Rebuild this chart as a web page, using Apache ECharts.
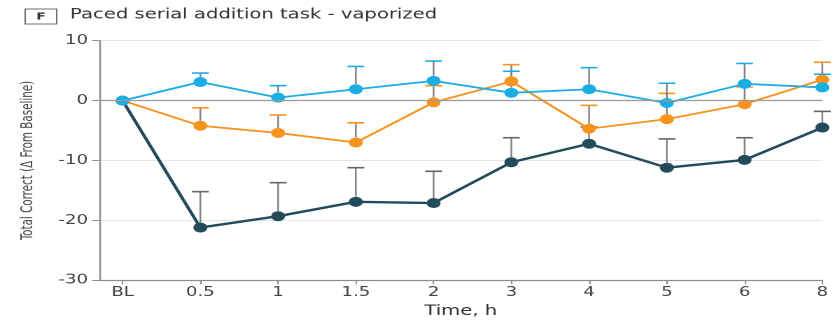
<!DOCTYPE html>
<html>
<head>
<meta charset="utf-8">
<script src="https://cdn.jsdelivr.net/npm/echarts@6/dist/echarts.min.js"></script>
<style>
  html, body { margin: 0; padding: 0; background: #fff; }
  #wrap { width: 834px; height: 321px; overflow: hidden; }
  /* the figure is drawn narrower and widened with scaleX */
  #chart { width: 595.714px; height: 321px; transform: scaleX(1.4); transform-origin: 0 0; }
</style>
</head>
<body>
<div id="wrap"><div id="chart"></div></div>
<script>
// Time points after dosing (h); BL = baseline
const timeLabels = ['BL', '0.5', '1', '1.5', '2', '3', '4', '5', '6', '8'];
const yTicks = [-30, -20, -10, 0, 10];

// Mean change in total correct responses from baseline
const groupAMean = [0, 3.1, 0.5, 1.9, 3.3, 1.3, 1.9, -0.4, 2.8, 2.2];
const groupAUpper = [null, 4.6, 2.5, 5.7, 6.6, 4.9, 5.5, 2.9, 6.2, 4.4];

const groupBMean = [0, -4.2, -5.4, -7.0, -0.3, 3.2, -4.7, -3.1, -0.6, 3.5];
const groupBUpper = [null, -1.2, -2.4, -3.7, 2.5, 6.0, -0.8, 1.2, 2.3, 6.4];

const groupCMean = [0, -21.2, -19.3, -16.9, -17.1, -10.3, -7.2, -11.2, -9.9, -4.5];
const groupCUpper = [null, -15.2, -13.7, -11.2, -11.8, -6.2, -4.4, -6.4, -6.2, -1.8];

const BLUE = '#1aaee5';
const ORANGE = '#f7941d';
const DARK = '#234b5b';
const STEM = '#808080';
const MARKER = 10;

const FONT = "'DejaVu Sans', 'Noto Sans', sans-serif";

function lineSeries(name, means, color, width) {
  return {
    name: name,
    type: 'line',
    data: means.map((v, i) => [i, v]),
    symbol: 'circle',
    symbolSize: MARKER,
    itemStyle: { color: color },
    lineStyle: { color: color, width: width },
    emphasis: { disabled: true },
    silent: true,
    animation: false
  };
}

// upper error bars: grey stem from the marker edge, cap in the group colour
function errorSeries(name, means, uppers, capColor) {
  return {
    name: name + ' SE',
    type: 'custom',
    data: means.map((v, i) => [i, v, uppers[i]]).filter(d => d[2] != null),
    encode: { x: 0, y: [1, 2] },
    silent: true,
    animation: false,
    renderItem: function (params, api) {
      const x = api.value(0);
      const p0 = api.coord([x, api.value(1)]);
      const p1 = api.coord([x, api.value(2)]);
      const hw = 6;
      const yStart = Math.max(p1[1], p0[1] - MARKER / 2);
      return {
        type: 'group',
        children: [
          { type: 'line', shape: { x1: p0[0], y1: yStart, x2: p1[0], y2: p1[1] },
            style: { stroke: STEM, lineWidth: 1.2 } },
          { type: 'line', shape: { x1: p1[0] - hw, y1: p1[1], x2: p1[0] + hw, y2: p1[1] },
            style: { stroke: capColor, lineWidth: 1.6 } }
        ]
      };
    }
  };
}

const chart = echarts.init(document.getElementById('chart'), null, { devicePixelRatio: 2 });

chart.setOption({
  animation: false,
  backgroundColor: '#fff',
  title: {
    text: 'Paced serial addition task - vaporized',
    left: 50,
    top: 8,
    padding: 0,
    textStyle: { fontFamily: FONT, fontSize: 14, fontWeight: 'normal', color: '#333' }
  },
  graphic: [
    {
      type: 'rect',
      shape: { x: 18, y: 9, width: 22.5, height: 15 },
      style: { fill: '#fff', stroke: '#6f6f6f', lineWidth: 1 }
    },
    {
      type: 'text',
      x: 29.3, y: 16.7,
      style: { text: 'F', fontFamily: FONT, fontSize: 10, fontWeight: 'bold', fill: '#333',
               align: 'center', verticalAlign: 'middle' }
    }
  ],
  grid: {
    left: 70.9, right: 8.6, top: 40.7, bottom: 40.7,
    containLabel: false,
    outerBoundsMode: 'none'
  },
  xAxis: {
    type: 'value',
    min: -0.3,
    max: 9,
    name: 'Time, h',
    nameLocation: 'middle',
    nameGap: 23,
    nameTextStyle: { fontFamily: FONT, fontSize: 14, color: '#333' },
    axisLine: { show: true, onZero: false, lineStyle: { color: '#8c8c8c', width: 1.2 } },
    axisTick: {
      show: true, length: 4,
      customValues: timeLabels.map((_, i) => i),
      lineStyle: { color: '#8c8c8c' }
    },
    axisLabel: {
      customValues: timeLabels.map((_, i) => i),
      formatter: v => timeLabels[Math.round(v)],
      margin: 6,
      fontFamily: FONT, fontSize: 13, color: '#444'
    },
    splitLine: { show: false }
  },
  yAxis: {
    type: 'value',
    min: yTicks[0],
    max: yTicks[yTicks.length - 1],
    interval: 10,
    name: 'Total Correct (\u0394 From Baseline)',
    nameLocation: 'middle',
    nameGap: 45,
    nameTextStyle: {
      fontFamily: "'Liberation Sans Narrow', 'DejaVu Sans Condensed', 'Roboto', sans-serif",
      fontSize: 11.5, color: '#444'
    },
    axisLine: { show: true, onZero: false, lineStyle: { color: '#8c8c8c', width: 1.2 } },
    axisTick: { show: true, length: 5, lineStyle: { color: '#8c8c8c' } },
    axisLabel: { margin: 8, fontFamily: FONT, fontSize: 13, color: '#444' },
    splitLine: { show: true, lineStyle: { color: '#e6e6e6', width: 1 } }
  },
  series: [
    {
      type: 'line',
      data: [],
      silent: true,
      markLine: {
        silent: true,
        symbol: 'none',
        label: { show: false },
        lineStyle: { color: '#9a9a9a', type: 'solid', width: 1.2 },
        data: [{ yAxis: 0 }],
        animation: false
      }
    },
    lineSeries('Group C', groupCMean, DARK, 2.4),
    errorSeries('Group B', groupBMean, groupBUpper, ORANGE),
    lineSeries('Group B', groupBMean, ORANGE, 1.8),
    errorSeries('Group C', groupCMean, groupCUpper, '#5b676d'),
    errorSeries('Group A', groupAMean, groupAUpper, BLUE),
    lineSeries('Group A', groupAMean, BLUE, 1.8)
  ]
});
</script>
</body>
</html>
